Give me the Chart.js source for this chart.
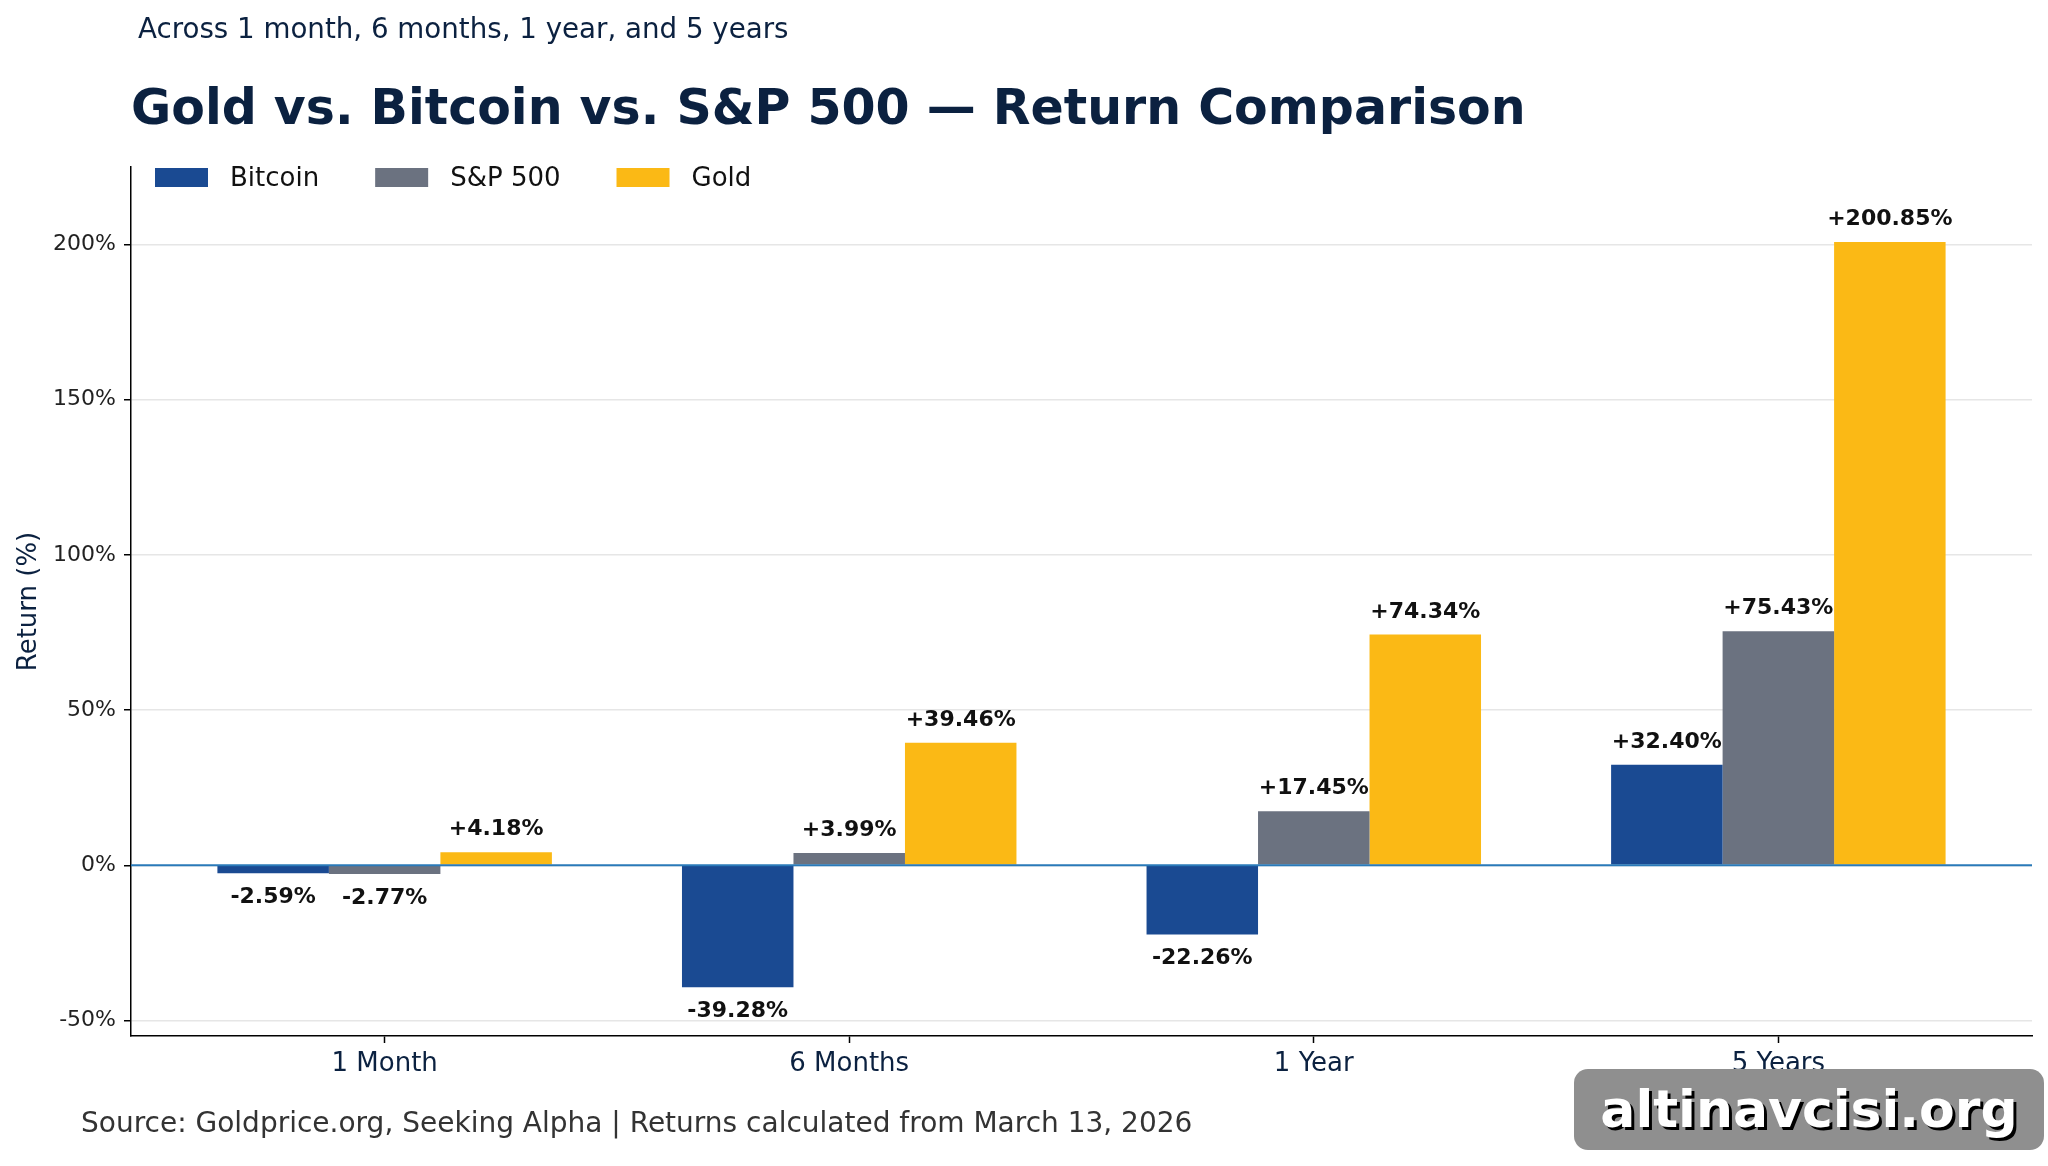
<!DOCTYPE html>
<html>
<head>
<meta charset="utf-8">
<script src="https://cdn.jsdelivr.net/npm/chart.js@4.4.1/dist/chart.umd.min.js"></script>
<style>
  body { margin: 0; background: #fff; }
  #wrap { position: relative; width: 2048px; height: 1166px; overflow: hidden; font-family: 'DejaVu Sans', sans-serif; }
  #chart { position: absolute; left: 0; top: 0; }
  .txt { position: absolute; white-space: nowrap; line-height: 1; }
  #subtitle { left: 138px; top: 15px; font-size: 27.7px; color: #0b2140; }
  #title { left: 131px; top: 83px; font-size: 49px; font-weight: bold; color: #0b2140; }
  #source { left: 81px; top: 1109px; font-size: 28px; color: #333; }
  #mark { left: 1574px; top: 1069px; width: 470px; height: 81px; border-radius: 14px; background: #8f8f8f;
          text-align: center; font-size: 52px; font-weight: bold; color: #fff; line-height: 81px;
          text-shadow: 3px 3px 0 #000; }
</style>
</head>
<body>
<div id="wrap">
  <canvas id="chart" width="2048" height="1166"></canvas>
  <div class="txt" id="subtitle">Across 1 month, 6 months, 1 year, and 5 years</div>
  <div class="txt" id="title">Gold vs. Bitcoin vs. S&amp;P 500 — Return Comparison</div>
  <div class="txt" id="source">Source: Goldprice.org, Seeking Alpha | Returns calculated from March 13, 2026</div>
  <div class="txt" id="mark">altinavcisi.org</div>
</div>
<script>
// --- chart data ---
const categories = ['1 Month', '6 Months', '1 Year', '5 Years'];
const bitcoin = [-2.59, -39.28, -22.26, 32.40];
const sp500 = [-2.77, 3.99, 17.45, 75.43];
const gold = [4.18, 39.46, 74.34, 200.85];
const yTicks = [-50, 0, 50, 100, 150, 200];
// --- end data ---

const navy = '#0b2140';
Chart.defaults.font.family = "'DejaVu Sans', sans-serif";

const toPoints = arr => arr.map((v, i) => ({ x: i, y: v }));

// bar value labels
const valueLabels = {
    id: 'valueLabels',
    afterDatasetsDraw(chart) {
        const ctx = chart.ctx;
        ctx.save();
        ctx.font = "bold 22px 'DejaVu Sans'";
        ctx.fillStyle = '#111';
        ctx.textAlign = 'center';
        chart.data.datasets.forEach((ds, di) => {
            chart.getDatasetMeta(di).data.forEach((bar, i) => {
                const v = ds.data[i].y;
                if (v >= 0) {
                    ctx.textBaseline = 'alphabetic';
                    ctx.fillText('+' + v.toFixed(2) + '%', bar.x, bar.y - 17);
                } else {
                    ctx.textBaseline = 'top';
                    ctx.fillText(v.toFixed(2) + '%', bar.x, bar.y + 13);
                }
            });
        });
        ctx.restore();
    }
};

// zero line on top of bars
const zeroLine = {
    id: 'zeroLine',
    afterDatasetsDraw(chart) {
        const { ctx, chartArea, scales } = chart;
        const y = scales.y.getPixelForValue(0);
        ctx.save();
        ctx.strokeStyle = '#2a7ab9';
        ctx.lineWidth = 2;
        ctx.beginPath();
        ctx.moveTo(chartArea.left, y);
        ctx.lineTo(chartArea.right, y);
        ctx.stroke();
        ctx.restore();
    }
};

// legend inside the plot, top-left
const boxLegend = {
    id: 'boxLegend',
    afterDraw(chart) {
        const { ctx, chartArea } = chart;
        ctx.save();
        ctx.font = "26px 'DejaVu Sans'";
        ctx.textBaseline = 'middle';
        ctx.textAlign = 'left';
        let x = chartArea.left + 24;
        const y = chartArea.top + 1;
        chart.data.datasets.forEach(ds => {
            ctx.fillStyle = ds.backgroundColor;
            ctx.fillRect(x, y, 53, 19);
            x += 53 + 22;
            ctx.fillStyle = '#111';
            ctx.fillText(ds.label, x, y + 11);
            x += ctx.measureText(ds.label).width + 56;
        });
        ctx.restore();
    }
};

new Chart(document.getElementById('chart'), {
    type: 'bar',
    data: {
        datasets: [
            { label: 'Bitcoin', data: toPoints(bitcoin), backgroundColor: '#1a4a92' },
            { label: 'S&P 500', data: toPoints(sp500), backgroundColor: '#6b7280' },
            { label: 'Gold', data: toPoints(gold), backgroundColor: '#fbb915' }
        ]
    },
    options: {
        responsive: false,
        devicePixelRatio: 1,
        animation: false,
        categoryPercentage: 0.72,
        barPercentage: 1.0,
        layout: { padding: { top: 167, right: 16, left: 0, bottom: 0 } },
        plugins: {
            legend: { display: false },
            title: { display: false },
            tooltip: { enabled: false }
        },
        scales: {
            x: {
                type: 'linear',
                min: -0.546,
                max: 3.546,
                offset: false,
                afterBuildTicks: s => { s.ticks = categories.map((c, i) => ({ value: i })); },
                afterFit: s => { s.height = 130; },
                ticks: {
                    callback: v => categories[v],
                    color: navy,
                    font: { size: 26 },
                    padding: 6,
                    maxRotation: 0
                },
                grid: {
                    offset: false,
                    drawOnChartArea: false,
                    drawTicks: true,
                    tickLength: 7,
                    tickColor: '#000',
                    tickWidth: 1.5
                },
                border: { display: true, color: '#000', width: 1.5 }
            },
            y: {
                min: -55,
                max: 225,
                afterBuildTicks: s => { s.ticks = yTicks.map(v => ({ value: v })); },
                afterFit: s => { s.width = 131; },
                ticks: {
                    callback: v => v + '%',
                    color: '#222',
                    font: { size: 22 },
                    padding: 8
                },
                grid: {
                    color: '#e6e6e6',
                    lineWidth: 1.5,
                    tickLength: 7,
                    tickColor: '#000',
                    tickWidth: 1.5
                },
                border: { display: true, color: '#000', width: 1.5 },
                title: {
                    display: true,
                    text: 'Return (%)',
                    color: navy,
                    font: { size: 26 },
                    padding: { top: 14, bottom: 0 }
                }
            }
        }
    },
    plugins: [zeroLine, valueLabels, boxLegend]
});
</script>
</body>
</html>
